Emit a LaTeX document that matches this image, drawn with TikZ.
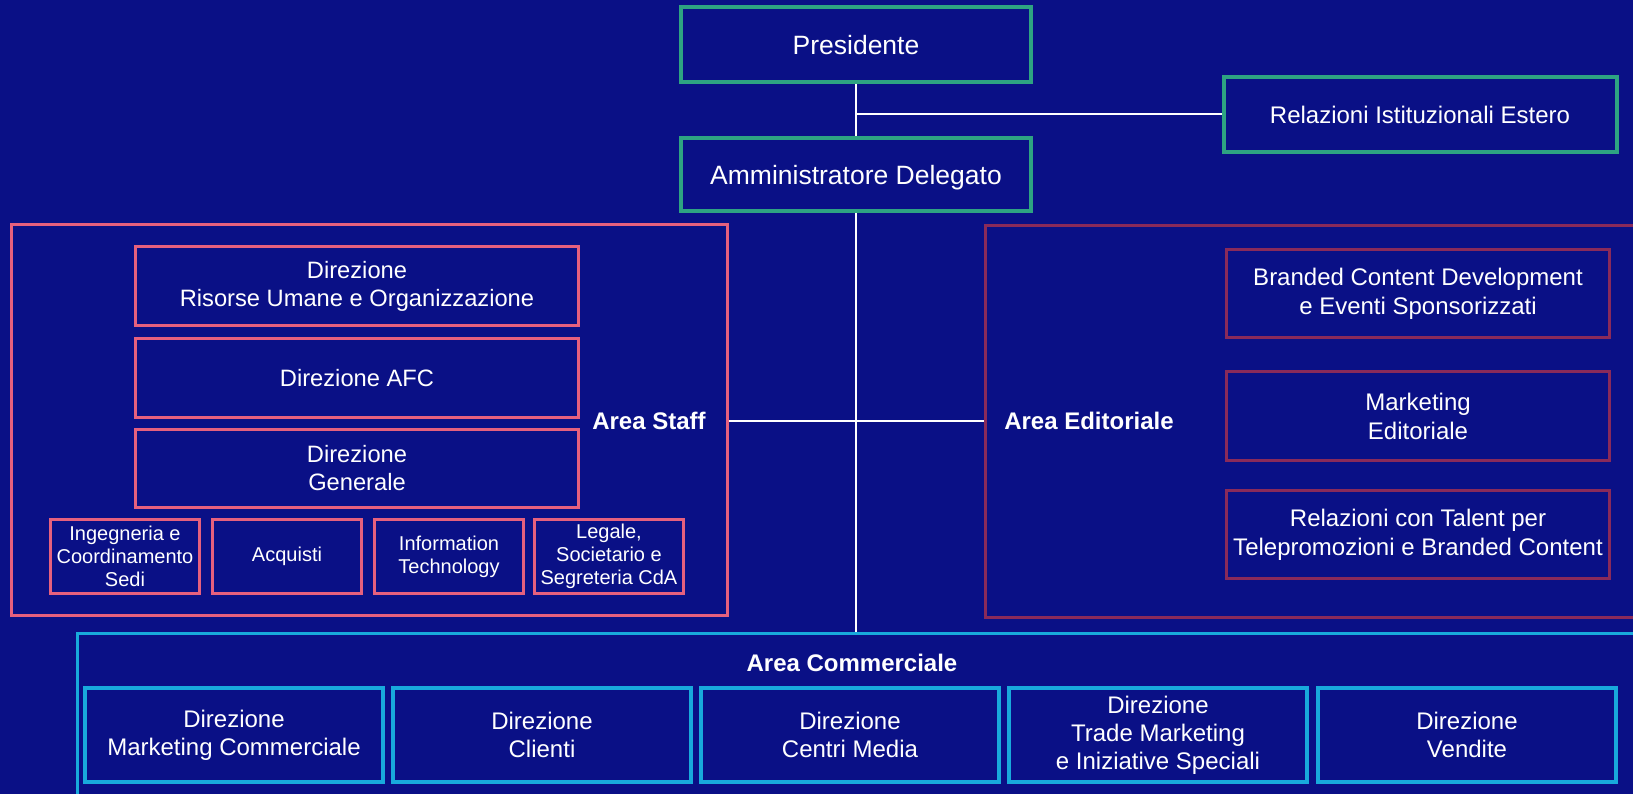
\documentclass[tikz,border=0pt]{standalone}
\usepackage{fontspec}
\setmainfont{Liberation Sans}
\begin{document}
\definecolor{navy}{RGB}{10,16,134}
\definecolor{topgreen}{RGB}{46,163,130}
\definecolor{staffpink}{RGB}{230,96,126}
\definecolor{edmaroon}{RGB}{138,42,90}
\definecolor{commcyan}{RGB}{24,170,220}
\begin{tikzpicture}[x=1pt,y=-1pt,
  box/.style={draw, rectangle, inner sep=0pt, align=center, text=white},
  topbox/.style={box, draw=topgreen, line width=4pt, text depth=0pt, font=\fontsize{26.5}{31}\selectfont},
  relbox/.style={box, draw=topgreen, line width=4pt, font=\fontsize{24}{28.5}\selectfont},
  staffbox/.style={box, draw=staffpink, line width=3pt, font=\fontsize{23.7}{28}\selectfont},
  smallbox/.style={box, draw=staffpink, line width=3pt, font=\fontsize{20}{23.3}\selectfont},
  edbox/.style={box, draw=edmaroon, line width=3pt, font=\fontsize{24}{29}\selectfont},
  commbox/.style={box, draw=commcyan, line width=3.5pt, font=\fontsize{24}{28}\selectfont},
  area/.style={text=white, font=\fontsize{24}{28}\selectfont\bfseries},
  link/.style={draw=white, line width=2pt}]
% page and background
\useasboundingbox (0,0) rectangle (1633,794);
\fill[navy] (0,0) rectangle (1633,794);
\clip (0,0) rectangle (1633,794);

% area frames
\node[draw=staffpink, line width=3pt, minimum width=716pt, minimum height=391pt, inner sep=0pt] (staff) at (369.5,420) {};
\node[draw=edmaroon, line width=3pt, minimum width=660pt, minimum height=391pt, inner sep=0pt, anchor=north west] (edit) at (984,224.5) {};
\node[draw=commcyan, line width=3pt, minimum width=1570pt, minimum height=180pt, inner sep=0pt, anchor=north west] (comm) at (75.5,632) {};

% top management
\node[topbox, minimum width=350pt, minimum height=75pt] (pres) at (856,44.5) {Presidente};
\node[relbox, minimum width=393pt, minimum height=75pt] (rel) at (1420,114.5) {Relazioni Istituzionali Estero};
\node[topbox, minimum width=350pt, minimum height=73pt] (ad) at (856,174.5) {Amministratore Delegato};

% Area Staff
\node[staffbox, minimum width=443pt, minimum height=79pt] (ru) at (357,286) {Direzione\\Risorse Umane e Organizzazione};
\node[staffbox, minimum width=443pt, minimum height=79pt] (afc) at (357,378) {Direzione AFC};
\node[staffbox, minimum width=443pt, minimum height=78pt] (gen) at (357,468.5) {Direzione\\Generale};
\node[smallbox, minimum width=149pt, minimum height=74pt] (ing) at (125,556.5) {Ingegneria e\\Coordinamento\\Sedi};
\node[smallbox, minimum width=149pt, minimum height=74pt] (acq) at (287,556.5) {Acquisti};
\node[smallbox, minimum width=149pt, minimum height=74pt] (it) at (449,556.5) {Information\\Technology};
\node[smallbox, minimum width=149pt, minimum height=74pt] (leg) at (609,556.5) {Legale,\\Societario e\\Segreteria CdA};
\node[area] (stafflbl) at (649,421) {Area Staff};

% Area Editoriale
\node[edbox, minimum width=383pt, minimum height=88pt] (bcd) at (1418,293.5) {Branded Content Development\\e Eventi Sponsorizzati};
\node[edbox, minimum width=383pt, minimum height=89pt] (mked) at (1418,416) {Marketing\\Editoriale};
\node[edbox, minimum width=383pt, minimum height=88pt] (tal) at (1418,534.5) {Relazioni con Talent per\\Telepromozioni e Branded Content};
\node[area] (edlbl) at (1089,421) {Area Editoriale};

% Area Commerciale
\node[area] (commlbl) at (852,663) {Area Commerciale};
\node[commbox, minimum width=298pt, minimum height=94pt] (mkc) at (234,735) {Direzione\\Marketing Commerciale};
\node[commbox, minimum width=298pt, minimum height=94pt] (cli) at (542,735) {Direzione\\Clienti};
\node[commbox, minimum width=298pt, minimum height=94pt] (cm) at (850,735) {Direzione\\Centri Media};
\node[commbox, minimum width=298pt, minimum height=94pt] (trade) at (1158,735) {Direzione\\Trade Marketing\\e Iniziative Speciali};
\node[commbox, minimum width=298pt, minimum height=94pt] (ven) at (1467,735) {Direzione\\Vendite};

% connectors
\draw[link] (pres.south) -- (ad.north);
\coordinate (relj) at (pres.south |- rel.west);
\draw[link] (relj) -- (rel.west);
\draw[link] (ad.south) -- (ad.south |- comm.north);
\draw[link] (staff.east |- stafflbl) -- (edit.west |- stafflbl);
\end{tikzpicture}
\end{document}
